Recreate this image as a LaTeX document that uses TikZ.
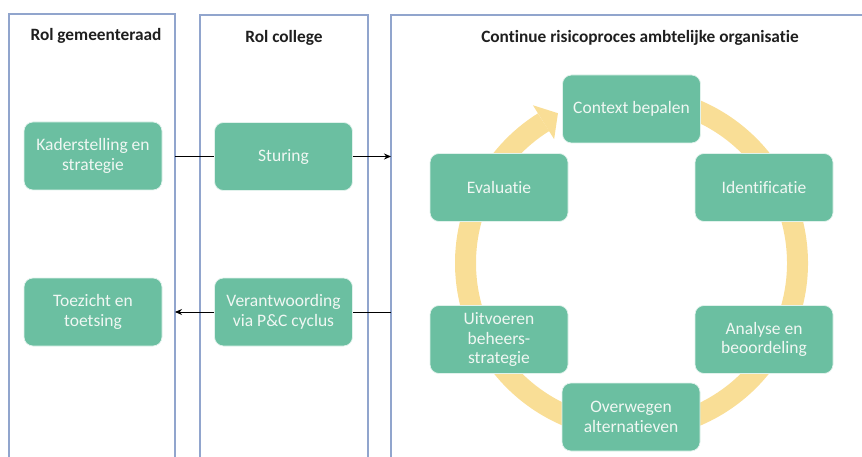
\documentclass[tikz,border=0pt]{standalone}
\usepackage{fontspec}
\setmainfont{Carlito}[Ligatures={NoCommon}]
\usetikzlibrary{arrows.meta,calc}
\definecolor{boxgreen}{RGB}{107,191,161}
\definecolor{ringyellow}{RGB}{249,222,150}
\definecolor{colline}{RGB}{145,165,205}
\definecolor{boxtext}{RGB}{240,247,243}
\begin{document}
\begin{tikzpicture}[x=1pt,y=-1pt,
  stagebox/.style={rectangle, rounded corners=9pt, fill=boxgreen, draw=white!80!boxgreen, line width=0.7pt,
    minimum width=138pt, minimum height=68pt, text=boxtext, align=center,
    font=\fontsize{17.5}{19.5}\selectfont, inner sep=2pt},
  colframe/.style={draw=colline, line width=1.6pt},
  coltitle/.style={font=\bfseries\fontsize{17.3}{20}\selectfont, text=black!88},
  flow/.style={draw=black, line width=0.9pt},
  flowarrow/.style={flow, -{Stealth[length=7pt,width=6pt]}},
  ringline/.style={draw=ringyellow, line width=21pt}]
\useasboundingbox (0,0) rectangle (862,457);
% columns
\draw[colframe] (9,470) -- (9,14) -- (175,14) -- (175,470);
\draw[colframe] (200,470) -- (200,15) -- (368,15) -- (368,470);
\draw[colframe] (391,470) -- (391,15) -- (880,15);
\node[coltitle] (t1) at (96,36) {Rol gemeenteraad};
\node[coltitle] (t2) at (284,38) {Rol college};
\node[coltitle] (t3) at (640,38) {Continue risicoproces ambtelijke organisatie};
% ring
\coordinate (rc) at (631.5,263);
\draw[ringline] ($(rc)+(-95:166)$) arc[start angle=-95, end angle=238, radius=166];
\fill[ringyellow] ($(rc)+(238:186)$) -- ($(rc)+(238:146)$) -- ($($(rc)+(238:166)$)+(-32:17)$) -- cycle;
% left boxes
\node[stagebox] (kader) at (93,156) {Kaderstelling en\\strategie};
\node[stagebox] (toezicht) at (93,312) {Toezicht en\\toetsing};
\node[stagebox] (sturing) at (283.5,156.5) {Sturing};
\node[stagebox] (verant) at (283.5,312) {Verantwoording\\via P\&C cyclus};
% cycle boxes
\node[stagebox] (context) at (631.5,109) {Context bepalen};
\node[stagebox] (eval) at (499,187.5) {Evaluatie};
\node[stagebox] (ident) at (764,187.5) {Identificatie};
\node[stagebox] (uitv) at (499,339.5) {Uitvoeren\\beheers-\\strategie};
\node[stagebox] (analyse) at (764,339.5) {Analyse en\\beoordeling};
\node[stagebox] (overw) at (631,417) {Overwegen\\alternatieven};
% connectors
\coordinate (c1a) at (175,156.5);
\coordinate (c3a) at (391,156.5);
\coordinate (c1b) at (175,312);
\coordinate (c3b) at (391,312);
\draw[flow] (c1a) -- (sturing.west);
\draw[flowarrow] (sturing.east) -- (c3a);
\draw[flow] (c3b) -- (verant.east);
\draw[flowarrow] (verant.west) -- (c1b);
\end{tikzpicture}
\end{document}
